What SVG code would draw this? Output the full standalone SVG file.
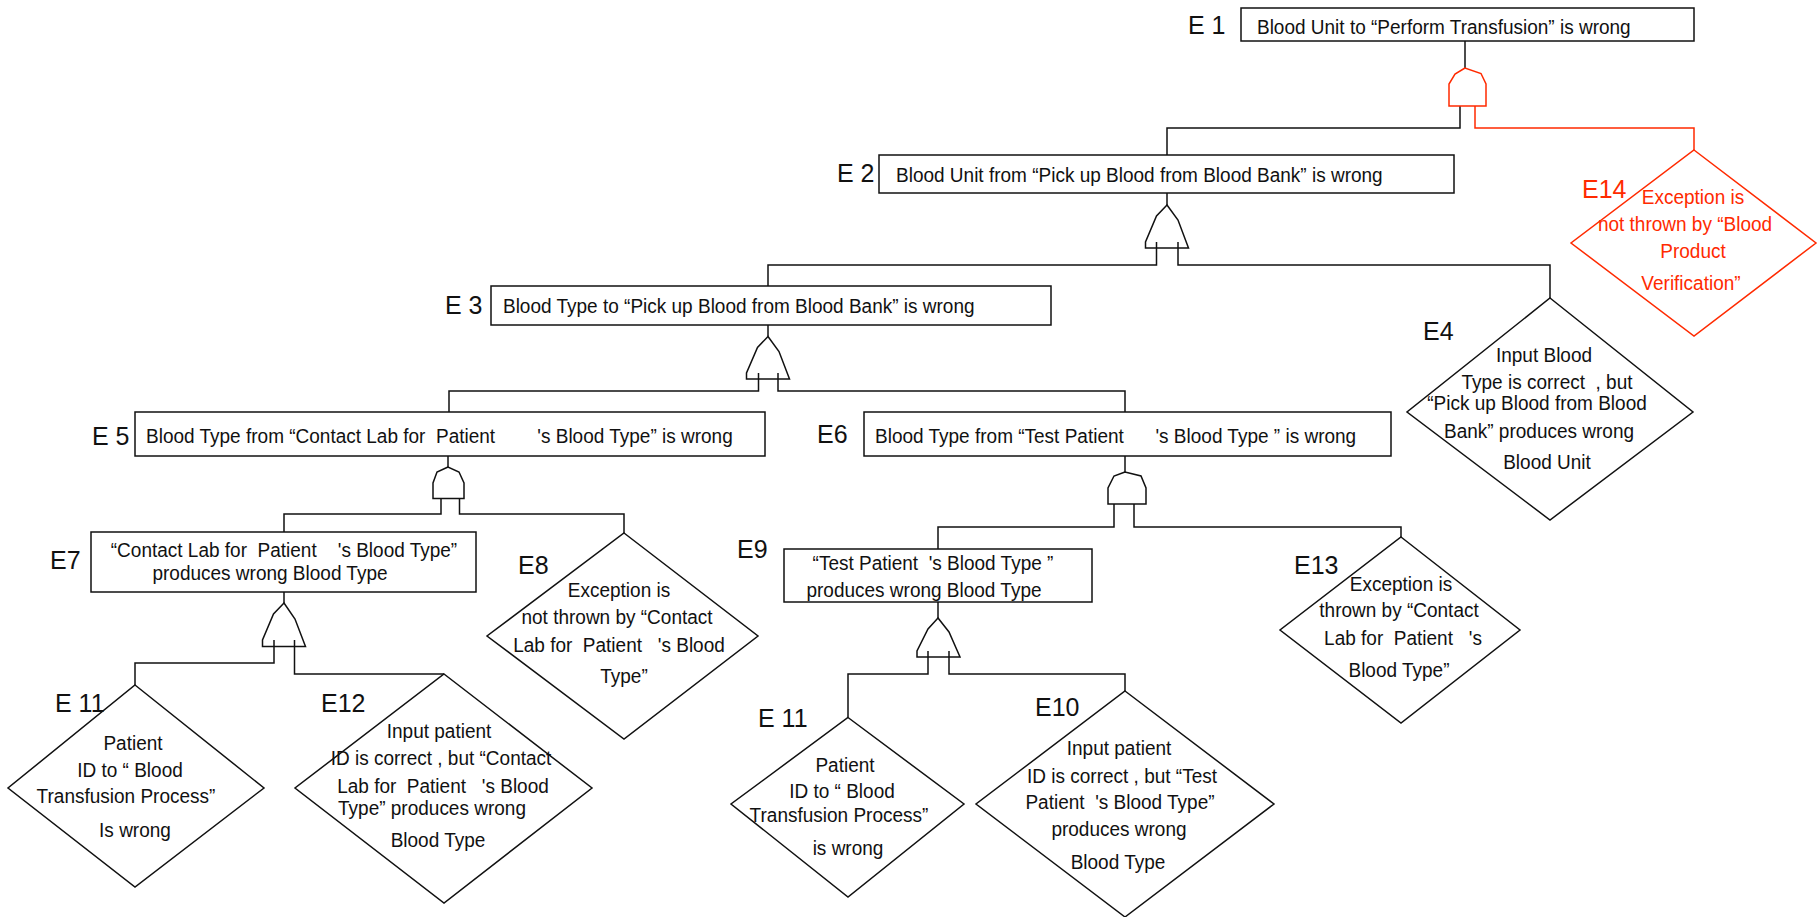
<svg xmlns="http://www.w3.org/2000/svg" width="1818" height="917" viewBox="0 0 1818 917">
  <style>
    .box { fill: #fff; stroke: #111; stroke-width: 1.5; }
    .dia { fill: none; stroke: #111; stroke-width: 1.5; stroke-linejoin: miter; }
    .gate { fill: none; stroke: #111; stroke-width: 1.5; stroke-linejoin: miter; }
    .wire { fill: none; stroke: #111; stroke-width: 1.5; }
    .red { stroke: #ff2a00; }
    .lbl { font-family: "Liberation Sans", Arial, sans-serif; font-size: 25px; fill: #111; }
    /* narrow, tall body text */
    .t { font-family: "Liberation Sans", Arial, sans-serif; font-size: 21px; fill: #111;
         transform-box: fill-box; transform-origin: 0% 50%; transform: scaleX(0.905); }
    .c { text-anchor: middle; transform-origin: 50% 50%; }
    .rt { fill: #ff2a00; }
  </style>
  <rect width="1818" height="917" fill="#fff"/>

  <!-- connectors between events and gates -->
  <g id="connectors">
    <path class="wire" d="M1465,41 V68"/>
    <path class="wire" d="M1460,106 V128 H1167 V155"/>
    <path class="wire red" d="M1475,106 V128 H1694 V150"/>
    <path class="wire" d="M1167,193 V205"/>
    <path class="wire" d="M1156.5,242 V265 H768 V286"/>
    <path class="wire" d="M1178,242 V265 H1550 V298"/>
    <path class="wire" d="M768,325 V336.5"/>
    <path class="wire" d="M758.5,373 V391 H449 V412"/>
    <path class="wire" d="M778,373 V391 H1125 V412"/>
    <path class="wire" d="M448,456 V467"/>
    <path class="wire" d="M441,498.5 V514 H284 V532"/>
    <path class="wire" d="M459.5,498.5 V514 H624 V533"/>
    <path class="wire" d="M1125,456 V472"/>
    <path class="wire" d="M1114,504 V527 H938 V549"/>
    <path class="wire" d="M1134,504 V527 H1401 V537"/>
    <path class="wire" d="M284,592 V603"/>
    <path class="wire" d="M274,640 V663 H135 V685"/>
    <path class="wire" d="M294.5,640 V674 H444"/>
    <path class="wire" d="M938,602 V618"/>
    <path class="wire" d="M928,651 V674 H848 V717.5"/>
    <path class="wire" d="M949,651 V674 H1125 V691"/>
  </g>

  <!-- logic gates -->
  <g id="gate-e1-and">
    <path class="gate red" d="M1465,68 L1455,74 L1449,84 L1449,106 L1486,106 L1486,84 L1481,73.5 Z"/>
  </g>
  <g id="gate-e2-or">
    <path class="gate" d="M1167,205 L1156.5,216 L1145.5,242 L1145.5,248 L1188.5,248 L1178,220 Z"/>
  </g>
  <g id="gate-e3-or">
    <path class="gate" d="M768,336.5 L757.5,347.5 L746.5,373 L746.5,379 L789.5,379 L779,351.5 Z"/>
  </g>
  <g id="gate-e5-and">
    <path class="gate" d="M448,467 L437,472 L433,483 L433,498.5 L464,498.5 L464,483 L459,472 Z"/>
  </g>
  <g id="gate-e6-and">
    <path class="gate" d="M1125,472 L1114,476 L1108,488 L1108,504 L1146,504 L1146,488 L1141,476 Z"/>
  </g>
  <g id="gate-e7-or">
    <path class="gate" d="M284,603 L273.5,614 L262.5,640 L262.5,646.5 L305.5,646.5 L295,619 Z"/>
  </g>
  <g id="gate-e9-or">
    <path class="gate" d="M938,618 L928,629 L917,651 L917,657 L960,657 L949,632 Z"/>
  </g>

  <!-- events -->
  <g id="e1">
    <rect class="box" x="1241" y="8" width="453" height="33"/>
    <text class="lbl" x="1188" y="34" xml:space="preserve">E 1</text>
    <text class="t" x="1257" y="34">Blood Unit to “Perform Transfusion” is wrong</text>
  </g>

  <g id="e2">
    <rect class="box" x="879" y="155" width="575" height="38"/>
    <text class="lbl" x="837" y="182" xml:space="preserve">E 2</text>
    <text class="t" x="896" y="182">Blood Unit from “Pick up Blood from Blood Bank” is wrong</text>
  </g>

  <g id="e14">
    <path class="dia red" d="M1694,150 L1816,243 L1694,336 L1571,243 Z"/>
    <text class="lbl rt" x="1582" y="198">E14</text>
    <text class="t rt c" x="1693" y="204">Exception is</text>
    <text class="t rt c" x="1685" y="231">not thrown by “Blood</text>
    <text class="t rt c" x="1693" y="258">Product</text>
    <text class="t rt c" x="1691" y="290">Verification”</text>
  </g>

  <g id="e3">
    <rect class="box" x="491" y="286" width="560" height="39"/>
    <text class="lbl" x="445" y="314" xml:space="preserve">E 3</text>
    <text class="t" x="503" y="313">Blood Type to “Pick up Blood from Blood Bank” is wrong</text>
  </g>

  <g id="e4">
    <path class="dia" d="M1550,298 L1693,412 L1550,520 L1407,412 Z"/>
    <text class="lbl" x="1423" y="340">E4</text>
    <text class="t c" x="1544" y="362">Input Blood</text>
    <text class="t c" x="1547" y="389" xml:space="preserve">Type is correct  , but</text>
    <text class="t c" x="1537" y="410">“Pick up Blood from Blood</text>
    <text class="t c" x="1539" y="438">Bank” produces wrong</text>
    <text class="t c" x="1547" y="469">Blood Unit</text>
  </g>

  <g id="e5">
    <rect class="box" x="135" y="412" width="630" height="44"/>
    <text class="lbl" x="92" y="445" xml:space="preserve">E 5</text>
    <text class="t" x="146" y="443" xml:space="preserve">Blood Type from “Contact Lab for  Patient        's Blood Type” is wrong</text>
  </g>

  <g id="e6">
    <rect class="box" x="864" y="412" width="527" height="44"/>
    <text class="lbl" x="817" y="443">E6</text>
    <text class="t" x="875" y="443" xml:space="preserve">Blood Type from “Test Patient      's Blood Type ” is wrong</text>
  </g>

  <g id="e7">
    <rect class="box" x="91" y="532" width="385" height="60"/>
    <text class="lbl" x="50" y="569">E7</text>
    <text class="t c" x="284" y="557" xml:space="preserve">“Contact Lab for  Patient    's Blood Type”</text>
    <text class="t c" x="270" y="580">produces wrong Blood Type</text>
  </g>

  <g id="e8">
    <path class="dia" d="M624,533 L758,636 L624,739 L487,636 Z"/>
    <text class="lbl" x="518" y="574">E8</text>
    <text class="t c" x="619" y="597">Exception is</text>
    <text class="t c" x="617" y="624">not thrown by “Contact</text>
    <text class="t c" x="619" y="652" xml:space="preserve">Lab for  Patient   's Blood</text>
    <text class="t c" x="624" y="683">Type”</text>
  </g>

  <g id="e9">
    <rect class="box" x="784" y="549" width="308" height="53"/>
    <text class="lbl" x="737" y="558">E9</text>
    <text class="t c" x="933" y="570" xml:space="preserve">“Test Patient  's Blood Type ”</text>
    <text class="t c" x="924" y="597">produces wrong Blood Type</text>
  </g>

  <g id="e13">
    <path class="dia" d="M1401,537 L1520,630 L1401,723 L1280,630 Z"/>
    <text class="lbl" x="1294" y="574">E13</text>
    <text class="t c" x="1401" y="591">Exception is</text>
    <text class="t c" x="1399" y="617">thrown by “Contact</text>
    <text class="t c" x="1403" y="645" xml:space="preserve">Lab for  Patient   's</text>
    <text class="t c" x="1399" y="677">Blood Type”</text>
  </g>

  <g id="e11-left">
    <path class="dia" d="M135,685 L264,788 L135,887 L8,788 Z"/>
    <text class="lbl" x="55" y="712" xml:space="preserve">E 11</text>
    <text class="t c" x="133" y="750">Patient</text>
    <text class="t c" x="130" y="777">ID to “ Blood</text>
    <text class="t c" x="126" y="803">Transfusion Process”</text>
    <text class="t c" x="135" y="837">Is wrong</text>
  </g>

  <g id="e12">
    <path class="dia" d="M444,674 L592,788 L444,903 L295,788 Z"/>
    <text class="lbl" x="321" y="712">E12</text>
    <text class="t c" x="439" y="738">Input patient</text>
    <text class="t c" x="441" y="765">ID is correct , but “Contact</text>
    <text class="t c" x="443" y="793" xml:space="preserve">Lab for  Patient   's Blood</text>
    <text class="t c" x="432" y="815">Type” produces wrong</text>
    <text class="t c" x="438" y="847">Blood Type</text>
  </g>

  <g id="e11-right">
    <path class="dia" d="M848,717.5 L964,804 L848,897 L731,804 Z"/>
    <text class="lbl" x="758" y="727" xml:space="preserve">E 11</text>
    <text class="t c" x="845" y="772">Patient</text>
    <text class="t c" x="842" y="798">ID to “ Blood</text>
    <text class="t c" x="839" y="822">Transfusion Process”</text>
    <text class="t c" x="848" y="855">is wrong</text>
  </g>

  <g id="e10">
    <path class="dia" d="M1125,691 L1274,804 L1125,917 L976,804 Z"/>
    <text class="lbl" x="1035" y="716">E10</text>
    <text class="t c" x="1119" y="755">Input patient</text>
    <text class="t c" x="1122" y="783">ID is correct , but “Test</text>
    <text class="t c" x="1120" y="809" xml:space="preserve">Patient  's Blood Type”</text>
    <text class="t c" x="1119" y="836">produces wrong</text>
    <text class="t c" x="1118" y="869">Blood Type</text>
  </g>
</svg>
